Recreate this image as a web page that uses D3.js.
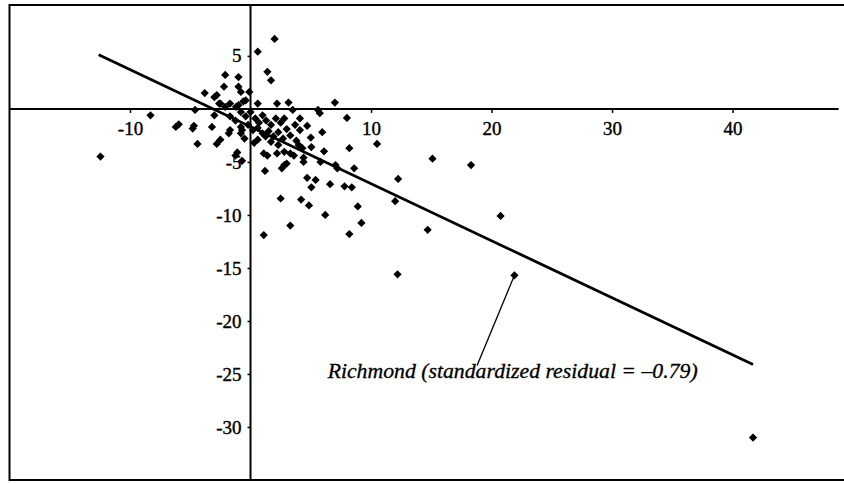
<!DOCTYPE html>
<html>
<head>
<meta charset="utf-8">
<script src="https://cdn.jsdelivr.net/npm/d3@7"></script>
<style>
  body { margin: 0; background: #fff; }
  svg text { font-family: "Liberation Serif", "Times New Roman", Times, "DejaVu Serif", serif; fill: #000; }
</style>
</head>
<body>
<div id="main"></div>
<script>
// points: [x, y]
var points = [
  [2.0, 6.6], [0.6, 5.4], [1.4, 3.5], [1.7, 2.7], [-2.1, 3.2], [-1.0, 3.0],
  [-2.2, 2.1], [-1.0, 2.1], [-2.8, 1.3], [-3.8, 1.5], [-0.8, 1.6], [-0.1, 1.6],
  [0.6, 0.5], [2.2, 0.5], [5.6, -0.1], [5.75, -0.4], [7.0, 0.6], [-4.6, -0.1],
  [-2.5, 0.5], [-2.1, 0.2], [-1.7, 0.5], [-1.2, 0.2], [-0.6, 0.7], [-3.0, -0.6],
  [-3.0, 1.1], [-2.6, 0.5],
  [-8.3, -0.6], [-6.2, -1.7], [-5.95, -1.45], [-4.8, -1.85], [-4.7, -1.6],
  [-3.2, -1.7], [-4.4, -3.3], [-2.8, -3.3], [-2.5, -2.9], [-1.8, -2.3],
  [-1.7, -2.0], [-0.8, -1.7], [-0.8, -2.3], [-0.7, -2.0], [-12.45, -4.5],
  [-1.25, -4.4], [-1.1, -4.1], [-0.7, -4.9], [0.3, -3.2], [1.1, -4.2],
  [1.4, -4.4], [2.2, -4.2], [2.8, -4.05], [3.6, -4.4], [2.8, -5.3], [2.6, -5.6],
  [1.2, -5.85], [2.8, -0.9], [3.0, -1.9], [5.95, -2.2], [5.0, -2.7], [8.0, -0.85],
  [10.5, -3.3], [4.0, -3.4], [4.3, -3.7], [5.05, -3.6], [8.2, -3.7], [6.1, -4.0],
  [4.4, -5.0], [5.8, -5.0], [7.05, -5.3], [7.2, -5.6], [8.6, -5.6], [15.1, -4.7],
  [18.3, -5.3], [4.7, -6.5], [5.4, -6.7], [5.05, -7.4], [6.6, -7.1], [7.8, -7.3],
  [8.4, -7.4], [12.25, -6.6], [2.5, -8.45], [4.2, -8.55], [4.85, -9.1],
  [8.9, -9.2], [12.0, -8.7], [6.2, -10.0], [3.3, -11.0], [9.2, -10.75],
  [1.1, -11.9], [8.2, -11.8], [14.7, -11.4], [20.75, -10.1], [12.2, -15.6],
  [41.7, -31.0], [4.4, -4.6], [1.25, -2.6], [3.3, -4.2], [3.0, -5.15],
  [-0.8, -0.3], [-0.4, -0.7], [0.0, -0.3], [0.4, -0.9], [0.7, -1.3], [1.0, -0.6],
  [1.3, -1.1], [1.7, -1.5], [2.1, -0.9], [2.5, -1.3], [-0.2, -1.5], [0.2, -2.0],
  [0.6, -1.8], [1.0, -2.3], [1.5, -2.1], [1.9, -2.6], [2.3, -2.2], [2.7, -2.8],
  [3.3, -2.5], [3.7, -1.5], [4.1, -2.0], [3.8, -3.0], [0.6, -2.9], [1.7, -3.1],
  [2.3, -3.4], [-0.5, -2.8], [-1.25, -1.1], [-1.7, -0.7], [-1.0, 0.35],
  [-0.4, 0.8], [3.5, -0.1], [4.1, -0.9], [4.7, -1.6], [3.15, 0.6]
];
var richmond = [21.9, -15.7];

// fitted line ends
var fitLine = [[-12.6, 5.1], [41.7, -24.1]];

var xTicks = [-10, 10, 20, 30, 40];
var yTicks = [5, -5, -10, -15, -20, -25, -30];

var labelText = "Richmond (standardized residual = \u20130.79)";
var labelAt = [6.4, -25.4];
var leaderEnd = [18.8, -24.2];

var width = 844, height = 483;
var serif = '"Liberation Serif", "Times New Roman", Times, "DejaVu Serif", serif';

var x = d3.scaleLinear().domain([-20, 48.8]).range([9.5, 838.6]);
var y = d3.scaleLinear().domain([9.8, -35]).range([5, 480]);

var svg = d3.select('#main').append('svg')
    .attr('width', width).attr('height', height);

// frame (top, left, bottom)
svg.append('path')
    .attr('d', 'M' + width + ',' + y(9.8) + 'H' + x(-20) + 'V' + y(-35) + 'H' + width)
    .attr('fill', 'none').attr('stroke', '#000').attr('stroke-width', 2);

// axes through the origin
svg.append('line')
    .attr('x1', x(-20)).attr('x2', x(48.8)).attr('y1', y(0)).attr('y2', y(0))
    .attr('stroke', '#000').attr('stroke-width', 2);
svg.append('line')
    .attr('x1', x(0)).attr('x2', x(0)).attr('y1', y(9.8)).attr('y2', y(-35))
    .attr('stroke', '#000').attr('stroke-width', 2);

var xAxis = svg.append('g')
    .attr('transform', 'translate(0,' + y(0) + ')')
    .call(d3.axisBottom(x).tickValues(xTicks).tickSize(4).tickPadding(9));
var yAxis = svg.append('g')
    .attr('transform', 'translate(' + x(0) + ',0)')
    .call(d3.axisLeft(y).tickValues(yTicks).tickSize(3).tickPadding(6));

[xAxis, yAxis].forEach(function(g) {
    g.attr('font-family', serif).attr('font-size', 19);
    g.select('.domain').remove();
    g.selectAll('line').attr('stroke', '#000').attr('stroke-width', 1.5);
    g.selectAll('text')
        .attr('fill', '#000').attr('stroke', '#000').attr('stroke-width', 0.4)
        .text(function(d) { return d < 0 ? '-' + Math.abs(d) : d; });
});

// regression line
svg.append('line')
    .attr('x1', x(fitLine[0][0])).attr('y1', y(fitLine[0][1]))
    .attr('x2', x(fitLine[1][0])).attr('y2', y(fitLine[1][1]))
    .attr('stroke', '#000').attr('stroke-width', 2.8);

// points
var diamond = d3.symbol().type(d3.symbolSquare).size(34);
svg.append('g').selectAll('path')
    .data(points.concat([richmond]))
    .enter().append('path')
    .attr('d', diamond)
    .attr('transform', function(d) {
        return 'translate(' + x(d[0]) + ',' + y(d[1]) + ') rotate(45)';
    })
    .attr('fill', '#000');

// annotation
svg.append('line')
    .attr('x1', x(richmond[0])).attr('y1', y(richmond[1]))
    .attr('x2', x(leaderEnd[0])).attr('y2', y(leaderEnd[1]))
    .attr('stroke', '#000').attr('stroke-width', 1.3);

svg.append('text')
    .attr('x', x(labelAt[0])).attr('y', y(labelAt[1]))
    .attr('font-family', serif)
    .attr('textLength', 370).attr('lengthAdjust', 'spacingAndGlyphs')
    .attr('stroke', '#000').attr('stroke-width', 0.3)
    .style('font-style', 'italic').style('font-size', '20px')
    .text(labelText);
</script>
</body>
</html>
